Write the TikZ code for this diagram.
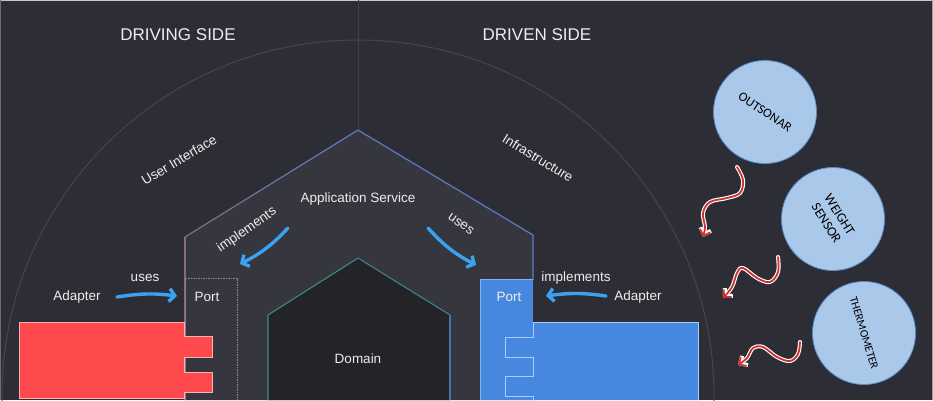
\documentclass[tikz,border=0pt]{standalone}
\usepackage{fontspec}
\setmainfont{Liberation Sans}
\newfontfamily\calib{Carlito}
\usetikzlibrary{arrows.meta}
\definecolor{bg}{HTML}{2D2E35}
\definecolor{appfill}{HTML}{36363E}
\definecolor{domfill}{HTML}{232328}
\definecolor{arcc}{HTML}{45454D}
\definecolor{vline}{HTML}{3E3E46}
\definecolor{txt}{HTML}{EDEDED}
\definecolor{arrowblue}{HTML}{3AA2F0}
\definecolor{adred}{HTML}{FF4A4D}
\definecolor{adredline}{HTML}{FFB0B0}
\definecolor{portblue}{HTML}{4688E0}
\definecolor{portline}{HTML}{A8CCFF}
\definecolor{hexpink}{HTML}{8A6A82}
\definecolor{hexblue}{HTML}{5A7CC4}
\definecolor{domteal}{HTML}{3D8E7C}
\definecolor{domblue}{HTML}{4A70A8}
\definecolor{circfill}{HTML}{AAC8EA}
\definecolor{circline}{HTML}{5A8FCC}
\definecolor{squig}{HTML}{D0302F}
\tikzset{
  lbl/.style={text=txt, font=\fontsize{13.5}{15}\selectfont, inner sep=0pt},
  title/.style={text=txt, font=\fontsize{17}{19}\selectfont, inner sep=0pt},
  barrow/.style={draw=arrowblue, line width=3.4pt, line cap=round, -{Straight Barb[length=5.5pt,width=13pt]}},
  circnode/.style={circle, fill=circfill, draw=circline, line width=0.8pt, minimum size=103pt, inner sep=0pt},
  ctext/.style={text=black, font=\calib\fontsize{13}{15}\selectfont, align=center, inner sep=0pt},
  squigw/.style={draw=white, line width=4pt, line cap=round, line join=round, -{Straight Barb[length=5.5pt,width=11pt]}},
  squigr/.style={draw=squig, line width=1.8pt, line cap=round, line join=round, -{Straight Barb[length=5.5pt,width=11pt]}}
}
\begin{document}
\begin{tikzpicture}[x=1pt,y=-1pt]
\useasboundingbox (0,0) rectangle (933,400);
\fill[bg] (0,0) rectangle (933,400);
% frame lines
\draw[draw=white!78!black, line width=1.2pt] (0,0.6) -- (933,0.6);
\draw[draw=white!62!black, line width=1.4pt] (932.3,0) -- (932.3,400);
\draw[draw=white!30!bg, line width=0.8pt] (0.4,0) -- (0.4,400);
% divider
\coordinate (apex) at (358,130);
\draw[vline, line width=0.9pt] (358,0) -- (apex);
% big arc
\begin{scope}
\clip (0,0) rectangle (933,400);
\draw[arcc, line width=1pt] (358,396) circle[radius=356];
\end{scope}
% application service hexagon
\fill[appfill] (358,130) -- (533,235) -- (533,400) -- (185,400) -- (185,237) -- cycle;
\draw[hexpink, line width=1.2pt] (185,400) -- (185,237);
\foreach \i in {0,...,11} {
  \pgfmathsetmacro\a{\i/12}
  \pgfmathsetmacro\b{(\i+1)/12}
  \pgfmathtruncatemacro\p{100*\i/11}
  \draw[color=hexblue!\p!hexpink, line width=1.2pt, line cap=round] ({185+173*\a},{237-107*\a}) -- ({185+173*\b},{237-107*\b});
}
\draw[hexblue, line width=1.2pt] (358,130) -- (533,235) -- (533,280);
% domain hexagon
\fill[domfill] (358,258) -- (450,315) -- (450,400) -- (268,400) -- (268,315) -- cycle;
\draw[domteal, line width=1.1pt] (268,400) -- (268,315) -- (358,258);
\draw[domteal!50!domblue, line width=1.1pt] (358,258) -- (450,315);
\draw[domblue, line width=1.1pt] (450,315) -- (450,400);
% left port
\draw[white!45!bg, line width=0.8pt, dash pattern=on 1.5pt off 1pt] (185,400) -- (185,278) -- (237,278) -- (237,400);
% red adapter
\fill[adred, draw=adredline, line width=0.8pt] (19,322) -- (184,322) -- (184,336) -- (212,336) -- (212,357) -- (184,357) -- (184,372) -- (212,372) -- (212,392) -- (184,392) -- (184,398) -- (19,398) -- cycle;
% blue port and adapter
\fill[portblue] (480,279) rectangle (533,400);
\draw[portline!60!portblue, line width=0.7pt] (480,400) -- (480,279) -- (533,279);
\fill[portblue] (698,322) -- (533,322) -- (533,337) -- (505,337) -- (505,357) -- (533,357) -- (533,376) -- (505,376) -- (505,396) -- (533,396) -- (533,400) -- (698,400) -- cycle;
\draw[portline, line width=0.9pt] (698,400) -- (698,322) -- (533,322) -- (533,337) -- (505,337) -- (505,357) -- (533,357) -- (533,376) -- (505,376) -- (505,396) -- (533,396) -- (533,400);
% titles
\node[title] (driving) at (178,35) {DRIVING SIDE};
\node[title] (driven) at (537,35) {DRIVEN SIDE};
\node[lbl, rotate=31] (ui) at (179,160) {User Interface};
\node[lbl, rotate=-31] (infra) at (538,158) {Infrastructure};
\node[lbl] (appsvc) at (358,199) {Application Service};
\node[lbl, rotate=35] (implL) at (247,230) {implements};
\node[lbl, rotate=-35] (usesR) at (461,224) {uses};
\node[lbl] (usesL) at (145,278) {uses};
\node[lbl] (adapterL) at (77,297) {Adapter};
\node[lbl] (portL) at (207,297) {Port};
\node[lbl] (implR) at (576,278) {implements};
\node[lbl] (adapterR) at (638,297) {Adapter};
\node[lbl] (portR) at (509,297) {Port};
\node[lbl] (domain) at (358,359) {Domain};
% blue arrows
\coordinate (aLs) at (117,297); \coordinate (aLe) at (177,296);
\coordinate (aRs) at (606,296); \coordinate (aRe) at (546,296);
\coordinate (iLs) at (288,228); \coordinate (iLe) at (240,264);
\coordinate (uRs) at (428,228); \coordinate (uRe) at (476,265);
\draw[barrow] (aLs) to[bend left=8] (aLe);
\draw[barrow] (aRs) to[bend right=8] (aRe);
\draw[barrow] (iLs) to[bend left=10] (iLe);
\draw[barrow] (uRs) to[bend right=10] (uRe);
% sensors
\node[circnode] (sonar) at (765,112) {};
\node[circnode] (weight) at (833,219) {};
\node[circnode] (thermo) at (864,333) {};
\node[ctext, rotate=-33] (sonarT) at (sonar) {OUTSONAR};
\node[ctext, rotate=-58, font=\calib\fontsize{13.5}{15.5}\selectfont] (weightT) at (weight) {WEIGHT\\SENSOR};
\node[ctext, rotate=-73, font=\calib\fontsize{11.5}{13}\selectfont] (thermoT) at (thermo) {THERMOMETER};
% red squiggles
\foreach \st in {squigw,squigr} {
  \draw[\st] plot[smooth, tension=0.6] coordinates {(737,167) (743,180) (740,193) (727,198) (710,202) (703,213) (705,227) (703,237)};
  \draw[\st] plot[smooth, tension=0.6] coordinates {(778,257) (778,272) (770,282) (757,278) (743,268) (737,273) (732,287) (723,298)};
  \draw[\st] plot[smooth, tension=0.6] coordinates {(800,342) (798,354) (790,361) (777,357) (763,347) (753,348) (747,358) (738,365)};
}
\end{tikzpicture}
\end{document}
